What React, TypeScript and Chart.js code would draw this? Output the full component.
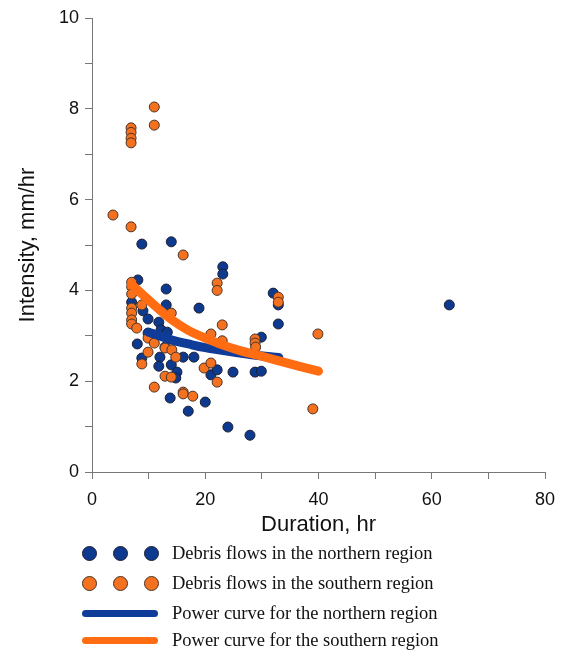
import React, { useEffect, useRef } from "react";
import { Chart, registerables } from "chart.js";
Chart.register(...registerables);

// Debris flows in the northern region (duration hr, intensity mm/hr)
const northX = [8.8, 14.0, 23.1, 23.1, 8.1, 13.1, 7.0, 13.1, 9.0, 18.9, 9.9, 11.8, 12.2, 9.9, 10.8, 13.3, 8.0, 12.9, 12.0, 16.1, 18.0, 8.8, 11.8, 14.0, 15.0, 14.8, 21.0, 22.1, 24.9, 28.8, 29.9, 29.9, 32.0, 32.9, 32.9, 13.8, 20.0, 17.0, 24.0, 27.9, 63.1];
const northY = [5.02, 5.07, 4.52, 4.36, 4.23, 4.03, 3.74, 3.68, 3.55, 3.61, 3.37, 3.30, 3.13, 3.06, 3.02, 3.08, 2.82, 2.75, 2.53, 2.53, 2.53, 2.51, 2.33, 2.36, 2.20, 2.07, 2.14, 2.25, 2.20, 2.20, 2.22, 2.97, 3.94, 3.68, 3.26, 1.63, 1.54, 1.34, 0.99, 0.81, 3.68];

// Debris flows in the southern region
const southX = [3.7, 6.9, 6.9, 6.9, 6.9, 6.9, 11.0, 11.0, 16.1, 7.0, 7.0, 7.0, 8.8, 7.0, 7.0, 14.0, 7.0, 7.0, 7.9, 9.9, 11.0, 12.9, 14.1, 9.9, 14.8, 8.8, 12.9, 14.0, 11.0, 16.1, 16.1, 17.8, 22.1, 22.1, 23.0, 21.0, 23.0, 19.8, 21.0, 22.1, 28.8, 28.8, 28.9, 32.9, 32.9, 39.9, 39.0];
const southY = [5.66, 5.40, 7.58, 7.48, 7.35, 7.25, 8.04, 7.64, 4.78, 4.18, 4.08, 3.92, 3.68, 3.61, 3.50, 3.50, 3.35, 3.26, 3.17, 2.95, 2.84, 2.73, 2.69, 2.64, 2.53, 2.38, 2.11, 2.09, 1.87, 1.76, 1.72, 1.67, 4.16, 4.00, 3.24, 3.04, 2.89, 2.29, 2.40, 1.98, 2.93, 2.84, 2.75, 3.85, 3.74, 3.04, 1.39];

// Power curves
const northCurveX = [10, 14, 17, 20, 25, 29, 33];
const northCurveY = [3.08, 2.91, 2.82, 2.74, 2.64, 2.57, 2.52];
const southCurveX = [7, 9, 11.5, 14, 17, 20, 23, 26, 30, 35, 40];
const southCurveY = [4.13, 3.9, 3.62, 3.36, 3.12, 2.95, 2.8, 2.68, 2.55, 2.38, 2.22];

const xTicks = [0, 20, 40, 60, 80];
const yTicks = [0, 2, 4, 6, 8, 10];

const legendLabels = [
  "Debris flows in the northern region",
  "Debris flows in the southern region",
  "Power curve for the northern region",
  "Power curve for the southern region",
];

const BLUE = "#0d3a8e";
const ORANGE = "#f4721f";
const BLUE_LINE = "#0f3c98";
const ORANGE_LINE = "#ff6c12";
const SANS = "'Liberation Sans', Arial, sans-serif";
const SERIF = "'Liberation Serif', 'Times New Roman', serif";

const zip = (xs: number[], ys: number[]) => xs.map((x, i) => ({ x, y: ys[i] }));

export default function App() {
  const ref = useRef<HTMLCanvasElement>(null);
  useEffect(() => {
    const chart = new Chart(ref.current!, {
      type: "scatter",
      data: {
        datasets: [
          {
            label: "Power curve for the southern region",
            data: zip(southCurveX, southCurveY),
            showLine: true,
            borderColor: ORANGE_LINE,
            backgroundColor: ORANGE_LINE,
            borderWidth: 9,
            pointRadius: 0,
            tension: 0.4,
            borderCapStyle: "round",
            order: 0,
          } as any,
          {
            label: "Power curve for the northern region",
            data: zip(northCurveX, northCurveY),
            showLine: true,
            borderColor: BLUE_LINE,
            backgroundColor: BLUE_LINE,
            borderWidth: 9,
            pointRadius: 0,
            tension: 0.4,
            borderCapStyle: "round",
            order: 1,
          } as any,
          {
            label: "Debris flows in the southern region",
            data: zip(southX, southY),
            backgroundColor: ORANGE,
            borderColor: "#4a3328",
            borderWidth: 1,
            pointRadius: 5,
            order: 2,
          },
          {
            label: "Debris flows in the northern region",
            data: zip(northX, northY),
            backgroundColor: BLUE,
            borderColor: "#1c1f33",
            borderWidth: 1,
            pointRadius: 5,
            order: 3,
          },
        ],
      },
      options: {
        responsive: false,
        animation: false,
        layout: { padding: { top: 18, right: 24, left: 0, bottom: 0 } },
        plugins: { legend: { display: false }, tooltip: { enabled: false } },
        scales: {
          x: {
            type: "linear",
            min: 0,
            max: 80,
            ticks: {
              stepSize: 10,
              autoSkip: false,
              maxRotation: 0,
              callback: (v: any) => (xTicks.includes(Number(v)) ? String(v) : ""),
              font: { family: SANS, size: 18 },
              color: "#111",
              padding: 10,
            },
            grid: { drawOnChartArea: false, drawTicks: true, tickLength: 7, color: "#777", lineWidth: 1 },
            border: { display: true, color: "#777", width: 1 },
            title: {
              display: true,
              text: "Duration, hr",
              font: { family: SANS, size: 22 },
              color: "#111",
              padding: { top: 0, bottom: 7 },
            },
            afterFit: (s: any) => {
              s.height = 73;
            },
          },
          y: {
            type: "linear",
            min: 0,
            max: 10,
            ticks: {
              stepSize: 1,
              autoSkip: false,
              callback: (v: any) => (yTicks.includes(Number(v)) ? String(v) : ""),
              font: { family: SANS, size: 18 },
              color: "#111",
              padding: 6,
            },
            grid: { drawOnChartArea: false, drawTicks: true, tickLength: 7, color: "#777", lineWidth: 1 },
            border: { display: true, color: "#777", width: 1 },
            title: {
              display: true,
              text: "Intensity, mm/hr",
              font: { family: SANS, size: 22 },
              color: "#111",
              padding: { top: 15, bottom: 0 },
            },
            afterFit: (s: any) => {
              s.width = 92;
            },
          },
        },
      },
    });
    return () => chart.destroy();
  }, []);

  const rowTops = [553, 583, 613, 640];
  const dot = (color: string, border: string, left: number, top: number, key: string) => (
    <div
      key={key}
      style={{
        position: "absolute",
        left: left - 7.5,
        top: top - 7.5,
        width: 15,
        height: 15,
        borderRadius: "50%",
        background: color,
        boxSizing: "border-box",
        border: `1px solid ${border}`,
      }}
    />
  );

  return (
    <div style={{ position: "absolute", left: 0, top: 0, width: 569, height: 650, background: "#fff" }}>
      <canvas ref={ref} width={569} height={545} style={{ display: "block" }} />
      {[89, 120, 151].map((x, i) => dot(BLUE, "#1c1f33", x, rowTops[0], "n" + i))}
      {[89, 120, 151].map((x, i) => dot(ORANGE, "#4a3328", x, rowTops[1], "s" + i))}
      <div
        style={{
          position: "absolute",
          left: 82,
          top: rowTops[2] - 3.5,
          width: 76,
          height: 7,
          borderRadius: 4,
          background: BLUE_LINE,
        }}
      />
      <div
        style={{
          position: "absolute",
          left: 82,
          top: rowTops[3] - 3.5,
          width: 76,
          height: 7,
          borderRadius: 4,
          background: ORANGE_LINE,
        }}
      />
      {legendLabels.map((t, i) => (
        <div
          key={t}
          style={{
            position: "absolute",
            left: 172,
            top: rowTops[i] - 11,
            height: 22,
            lineHeight: "22px",
            fontFamily: SERIF,
            fontSize: 18.5,
            color: "#111",
            whiteSpace: "nowrap",
          }}
        >
          {t}
        </div>
      ))}
    </div>
  );
}
